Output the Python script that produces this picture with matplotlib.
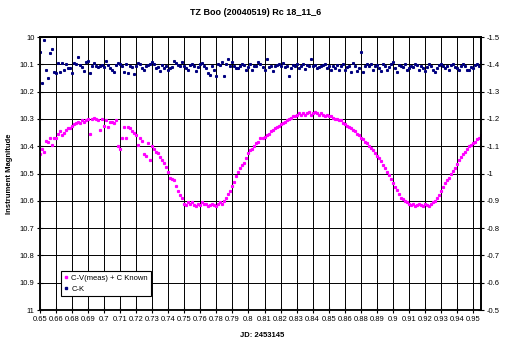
import matplotlib.pyplot as plt

plt.rcParams['font.family'] = ['Liberation Sans', 'DejaVu Sans']

# C-V(meas) + C Known, one value per observation (left axis)
cv_known = [
    10.43, 10.41, 10.42, 10.38, 10.385, 10.37, 10.395, 10.37, 10.37, 10.355,
    10.345, 10.36, 10.35, 10.34, 10.335, 10.335, 10.325, 10.32, 10.315, 10.31,
    10.315, 10.305, 10.31, 10.305, 10.30, 10.355, 10.30, 10.295, 10.30, 10.305,
    10.34, 10.30, 10.325, 10.305, 10.33, 10.31, 10.31, 10.315, 10.305, 10.40,
    10.41, 10.37, 10.33, 10.37, 10.33, 10.335, 10.345, 10.35, 10.36, 10.395,
    10.37, 10.38, 10.43, 10.435, 10.39, 10.45, 10.40, 10.41, 10.42, 10.425,
    10.44, 10.45, 10.46, 10.475, 10.495, 10.515, 10.52, 10.525, 10.545, 10.565,
    10.58, 10.59, 10.61, 10.615, 10.605, 10.61, 10.605, 10.615, 10.62, 10.61,
    10.615, 10.605, 10.61, 10.61, 10.62, 10.615, 10.61, 10.615, 10.62, 10.61,
    10.605, 10.61, 10.60, 10.59, 10.575, 10.565, 10.545, 10.53, 10.51, 10.495,
    10.48, 10.47, 10.46, 10.445, 10.425, 10.415, 10.41, 10.40, 10.39, 10.385,
    10.37, 10.37, 10.365, 10.36, 10.355, 10.345, 10.34, 10.335, 10.33, 10.325,
    10.32, 10.315, 10.31, 10.305, 10.30, 10.295, 10.29, 10.29, 10.285, 10.28,
    10.285, 10.28, 10.285, 10.28, 10.275, 10.285, 10.28, 10.275, 10.28, 10.285,
    10.28, 10.285, 10.29, 10.285, 10.29, 10.29, 10.295, 10.30, 10.30, 10.305,
    10.305, 10.315, 10.32, 10.325, 10.33, 10.335, 10.34, 10.345, 10.355, 10.36,
    10.37, 10.375, 10.385, 10.39, 10.40, 10.405, 10.415, 10.425, 10.435, 10.445,
    10.455, 10.47, 10.48, 10.495, 10.505, 10.52, 10.535, 10.55, 10.56, 10.575,
    10.59, 10.595, 10.60, 10.605, 10.61, 10.615, 10.61, 10.62, 10.615, 10.61,
    10.615, 10.62, 10.61, 10.615, 10.62, 10.61, 10.605, 10.60, 10.59, 10.58,
    10.565, 10.55, 10.535, 10.525, 10.515, 10.50, 10.49, 10.48, 10.465, 10.45,
    10.44, 10.43, 10.42, 10.41, 10.40, 10.395, 10.39, 10.385, 10.375, 10.37,
    10.36,
]

# C-K, same observations (right axis)
c_k = [
    -1.445, -1.330, -1.490, -1.380, -1.350, -1.440, -1.455, -1.372, -1.368, -1.405,
    -1.372, -1.405, -1.378, -1.402, -1.385, -1.388, -1.368, -1.405, -1.400, -1.427,
    -1.398, -1.390, -1.375, -1.410, -1.412, -1.370, -1.392, -1.405, -1.395, -1.390,
    -1.393, -1.398, -1.390, -1.412, -1.398, -1.385, -1.380, -1.372, -1.398, -1.405,
    -1.400, -1.395, -1.372, -1.402, -1.368, -1.395, -1.390, -1.366, -1.395, -1.405,
    -1.402, -1.388, -1.380, -1.392, -1.398, -1.402, -1.408, -1.400, -1.385, -1.390,
    -1.375, -1.398, -1.388, -1.392, -1.380, -1.385, -1.390, -1.412, -1.405, -1.398,
    -1.395, -1.408, -1.392, -1.385, -1.380, -1.398, -1.402, -1.395, -1.375, -1.390,
    -1.400, -1.405, -1.392, -1.388, -1.370, -1.362, -1.395, -1.380, -1.358, -1.402,
    -1.398, -1.408, -1.356, -1.400, -1.418, -1.395, -1.410, -1.392, -1.385, -1.388,
    -1.395, -1.402, -1.398, -1.378, -1.390, -1.402, -1.380, -1.395, -1.392, -1.408,
    -1.402, -1.390, -1.380, -1.420, -1.390, -1.395, -1.375, -1.392, -1.398, -1.402,
    -1.392, -1.405, -1.390, -1.395, -1.358, -1.385, -1.398, -1.392, -1.400, -1.388,
    -1.395, -1.400, -1.382, -1.398, -1.392, -1.420, -1.395, -1.398, -1.385, -1.390,
    -1.395, -1.398, -1.402, -1.388, -1.392, -1.378, -1.395, -1.385, -1.398, -1.380,
    -1.392, -1.400, -1.380, -1.390, -1.395, -1.372, -1.405, -1.392, -1.375, -1.385,
    -1.445, -1.372, -1.392, -1.400, -1.395, -1.402, -1.380, -1.392, -1.398, -1.385,
    -1.375, -1.400, -1.392, -1.380, -1.390, -1.402, -1.408, -1.385, -1.372, -1.398,
    -1.395, -1.390, -1.400, -1.378, -1.385, -1.395, -1.390, -1.402, -1.398, -1.380,
    -1.392, -1.385, -1.375, -1.390, -1.400, -1.395, -1.378, -1.372, -1.385, -1.398,
    -1.402, -1.392, -1.385, -1.395, -1.378, -1.398, -1.402, -1.390, -1.388, -1.380,
    -1.395, -1.400, -1.392, -1.380, -1.378, -1.390, -1.385, -1.398, -1.402, -1.395,
    -1.408,
]

# category labels shown every 8 observations
jd_labels = ['0.65', '0.66', '0.68', '0.69', '0.7', '0.71', '0.72', '0.73', '0.74',
             '0.75', '0.76', '0.78', '0.79', '0.8', '0.81', '0.82', '0.83', '0.84',
             '0.85', '0.86', '0.88', '0.89', '0.9', '0.91', '0.92', '0.93', '0.94',
             '0.95']
label_step = 8

idx = list(range(len(cv_known)))

fig = plt.figure(figsize=(5.07, 3.44), dpi=100)
ax = fig.add_axes([0.0789, 0.0988, 0.8698, 0.7936])
ax2 = ax.twinx()

ax.set_ylim(11, 10)
ax2.set_ylim(-0.5, -1.5)
ax.set_xlim(0, len(idx) - 1)

ax.set_yticks([10 + k / 10 for k in range(11)])
ax.set_yticklabels(['10', '10.1', '10.2', '10.3', '10.4', '10.5', '10.6', '10.7',
                    '10.8', '10.9', '11'])
ax2.set_yticks([-1.5 + k / 10 for k in range(11)])
ax2.set_yticklabels(['-1.5', '-1.4', '-1.3', '-1.2', '-1.1', '-1', '-0.9', '-0.8',
                     '-0.7', '-0.6', '-0.5'])
ax.set_xticks(idx[::label_step][:len(jd_labels)])
ax.set_xticklabels(jd_labels)

ax.grid(True, color='black', lw=0.7)
ax.set_axisbelow(True)

for a in (ax, ax2):
    a.tick_params(direction='inout', length=4, width=0.8, labelsize=5.5, pad=2)
    for s in a.spines.values():
        s.set_linewidth(1.2)
ax.spines['left'].set_color('#444444')
ax.spines['bottom'].set_color('#444444')

l1, = ax.plot(idx, cv_known, ls='none', marker='s', ms=1.3, color='#ff00ff',
              mec='#ff00ff', label='C-V(meas) + C Known')
l2, = ax2.plot(idx, c_k, ls='none', marker='s', ms=1.2, color='#000080',
               mec='#000080', label='C-K')

leg = ax.legend(handles=[l1, l2], loc='lower left', bbox_to_anchor=(0.038, 0.038),
                fontsize=5.5, frameon=True, fancybox=False, framealpha=1,
                edgecolor='black', borderpad=0.4, handlelength=0.6,
                handletextpad=0.4, labelspacing=0.5, markerscale=1.3)
leg.get_frame().set_linewidth(0.8)

fig.text(0.505, 0.965, 'TZ Boo (20040519) Rc 18_11_6', ha='center', va='center',
         fontsize=6.5, fontweight='bold')
fig.text(0.517, 0.026, 'JD: 2453145', ha='center', va='center',
         fontsize=5.5, fontweight='bold')
fig.text(0.018, 0.495, 'Instrument Magnitude', ha='center', va='center',
         rotation=90, fontsize=5.5, fontweight='bold')

fig.savefig('out.png', dpi=100)
